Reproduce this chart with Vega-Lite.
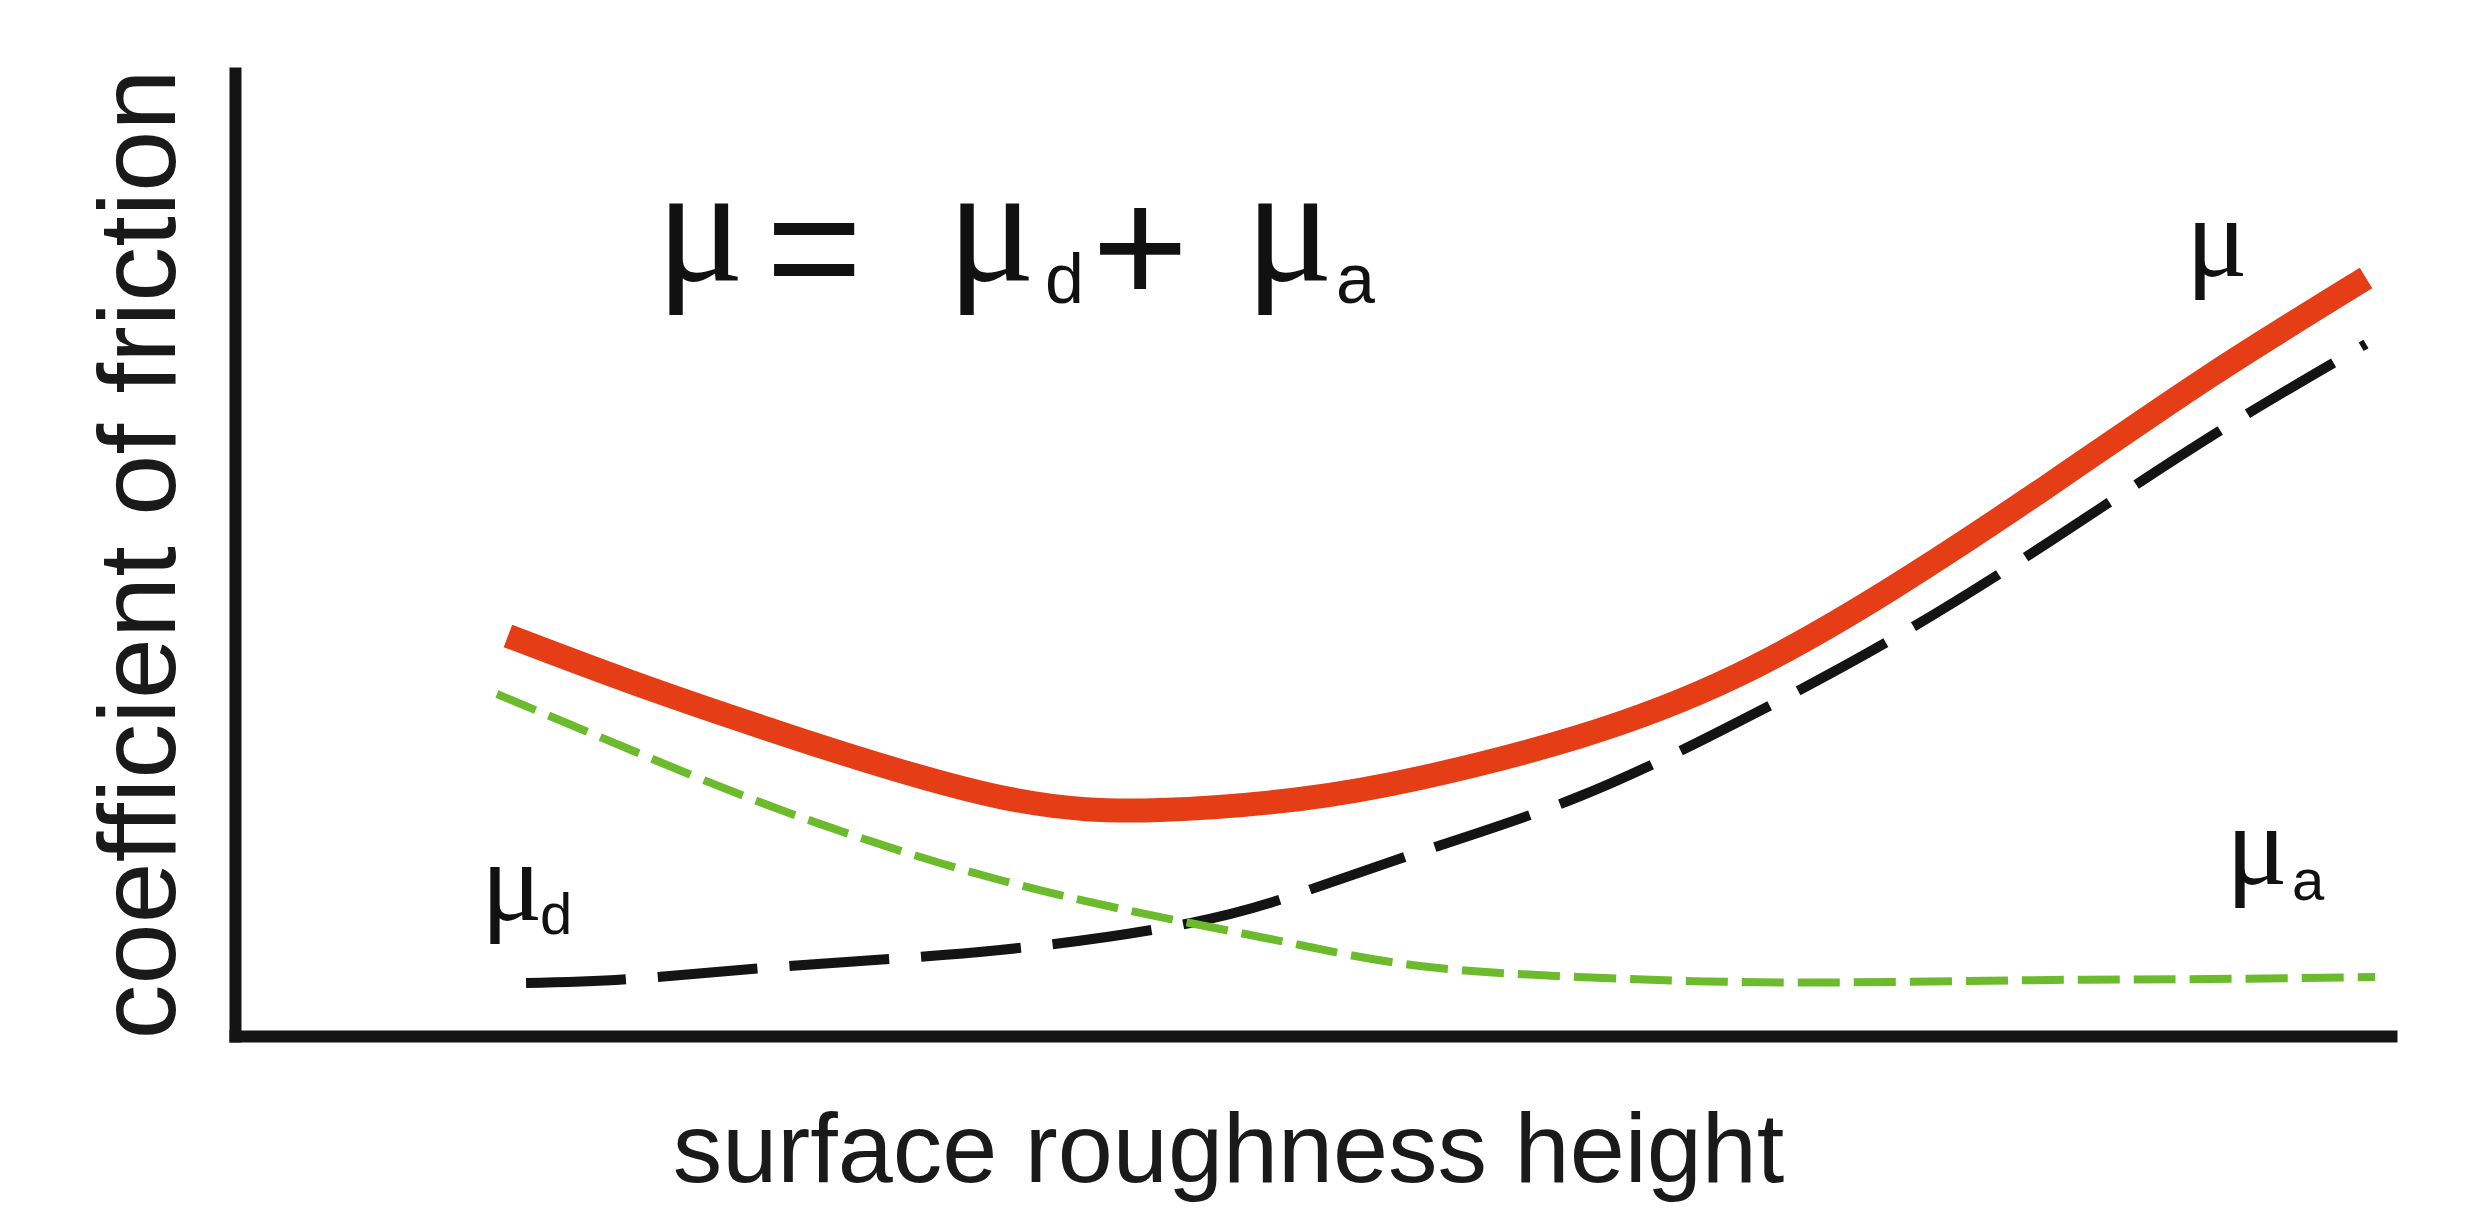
{
  "$schema": "https://vega.github.io/schema/vega-lite/v6.json",
  "autosize": {"type": "none"},
  "width": 2156,
  "height": 963,
  "padding": {"left": 235, "top": 73, "right": 84, "bottom": 196},
  "background": "#ffffff",
  "config": {"view": {"stroke": null}},
  "datasets": {
    "curves": [
      {"curve": "mu", "x": 12.66, "y": 41.54},
      {"curve": "mu", "x": 18.37, "y": 36.76},
      {"curve": "mu", "x": 25.70, "y": 31.15},
      {"curve": "mu", "x": 35.48, "y": 24.82},
      {"curve": "mu", "x": 42.90, "y": 23.47},
      {"curve": "mu", "x": 49.40, "y": 24.61},
      {"curve": "mu", "x": 54.96, "y": 26.79},
      {"curve": "mu", "x": 62.29, "y": 31.05},
      {"curve": "mu", "x": 69.62, "y": 37.38},
      {"curve": "mu", "x": 76.95, "y": 46.63},
      {"curve": "mu", "x": 84.28, "y": 57.42},
      {"curve": "mu", "x": 91.60, "y": 68.54},
      {"curve": "mu", "x": 98.84, "y": 78.71},
      {"curve": "mu_a", "x": 12.15, "y": 35.51},
      {"curve": "mu_a", "x": 18.37, "y": 29.70},
      {"curve": "mu_a", "x": 25.70, "y": 23.16},
      {"curve": "mu_a", "x": 35.48, "y": 16.20},
      {"curve": "mu_a", "x": 44.29, "y": 11.73},
      {"curve": "mu_a", "x": 49.40, "y": 9.45},
      {"curve": "mu_a", "x": 54.96, "y": 7.27},
      {"curve": "mu_a", "x": 62.29, "y": 6.13},
      {"curve": "mu_a", "x": 69.62, "y": 5.61},
      {"curve": "mu_a", "x": 76.95, "y": 5.61},
      {"curve": "mu_a", "x": 84.28, "y": 5.82},
      {"curve": "mu_a", "x": 91.60, "y": 5.92},
      {"curve": "mu_a", "x": 99.26, "y": 6.13},
      {"curve": "mu_d", "x": 13.50, "y": 5.50},
      {"curve": "mu_d", "x": 18.37, "y": 5.92},
      {"curve": "mu_d", "x": 25.70, "y": 7.27},
      {"curve": "mu_d", "x": 35.48, "y": 8.93},
      {"curve": "mu_d", "x": 44.29, "y": 11.73},
      {"curve": "mu_d", "x": 49.40, "y": 14.85},
      {"curve": "mu_d", "x": 54.96, "y": 19.11},
      {"curve": "mu_d", "x": 62.29, "y": 24.82},
      {"curve": "mu_d", "x": 69.62, "y": 32.50},
      {"curve": "mu_d", "x": 76.95, "y": 41.33},
      {"curve": "mu_d", "x": 84.28, "y": 51.51},
      {"curve": "mu_d", "x": 91.60, "y": 62.20},
      {"curve": "mu_d", "x": 98.84, "y": 71.86}
    ],
    "labels": [
      {"role": "bigmu", "text": "μ", "x": 19.53, "y": 78.5},
      {"role": "bigmu", "text": "μ", "x": 33.02, "y": 78.5},
      {"role": "bigmu", "text": "μ", "x": 46.85, "y": 78.5},
      {"role": "bigop", "text": "=", "x": 24.63, "y": 81.2},
      {"role": "bigop", "text": "+", "x": 39.75, "y": 81.2},
      {"role": "bigsub", "text": "d", "x": 37.57, "y": 76.1},
      {"role": "bigsub", "text": "a", "x": 51.07, "y": 76.1},
      {"role": "mu", "text": "μ", "x": 90.49, "y": 78.9},
      {"role": "mu", "text": "μ", "x": 92.35, "y": 15.8},
      {"role": "mu", "text": "μ", "x": 11.41, "y": 12.0},
      {"role": "sub", "text": "a", "x": 95.41, "y": 14.1},
      {"role": "sub", "text": "d", "x": 14.15, "y": 10.6}
    ]
  },
  "encoding": {
    "x": {"field": "x", "type": "quantitative", "scale": {"domain": [0, 100], "nice": false, "zero": false},
      "axis": {"title": "surface roughness height", "domain": true, "domainWidth": 12, "domainColor": "#141414", "domainCap": "square",
        "ticks": false, "labels": false, "grid": false,
        "titleFont": "Liberation Sans", "titleFontSize": 99, "titleFontWeight": "normal", "titleColor": "#1a1a1a",
        "titleX": 993, "titleY": 145, "titleBaseline": "alphabetic", "titleAlign": "center"}},
    "y": {"field": "y", "type": "quantitative", "scale": {"domain": [0, 100], "nice": false, "zero": false},
      "axis": {"title": "coefficient of friction", "domain": true, "domainWidth": 12, "domainColor": "#141414", "domainCap": "square",
        "ticks": false, "labels": false, "grid": false,
        "titleFont": "Liberation Sans", "titleFontSize": 110, "titleFontWeight": "normal", "titleColor": "#1a1a1a",
        "titleX": -61, "titleY": 481, "titleBaseline": "alphabetic", "titleAlign": "center", "titleAngle": -90}}
  },
  "layer": [
    {"data": {"name": "curves"}, "transform": [{"filter": "datum.curve == 'mu_d'"}],
      "mark": {"type": "line", "interpolate": "natural", "color": "#141414", "strokeWidth": 10, "strokeDash": [100, 32], "strokeCap": "butt"}},
    {"data": {"name": "curves"}, "transform": [{"filter": "datum.curve == 'mu_a'"}],
      "mark": {"type": "line", "interpolate": "natural", "color": "#6CBB2C", "strokeWidth": 8, "strokeDash": [42, 14], "strokeCap": "butt"}},
    {"data": {"name": "curves"}, "transform": [{"filter": "datum.curve == 'mu'"}],
      "mark": {"type": "line", "interpolate": "natural", "color": "#E53D16", "strokeWidth": 24, "strokeCap": "butt"}},
    {"data": {"name": "labels"}, "transform": [{"filter": "datum.role == 'bigmu'"}],
      "mark": {"type": "text", "font": "Liberation Serif", "fontSize": 165, "align": "left", "baseline": "alphabetic", "color": "#111111"},
      "encoding": {"text": {"field": "text"}}},
    {"data": {"name": "labels"}, "transform": [{"filter": "datum.role == 'bigop'"}],
      "mark": {"type": "text", "font": "Liberation Sans", "fontSize": 165, "align": "left", "baseline": "middle", "color": "#111111"},
      "encoding": {"text": {"field": "text"}}},
    {"data": {"name": "labels"}, "transform": [{"filter": "datum.role == 'bigsub'"}],
      "mark": {"type": "text", "font": "Liberation Sans", "fontSize": 70, "align": "left", "baseline": "alphabetic", "color": "#111111"},
      "encoding": {"text": {"field": "text"}}},
    {"data": {"name": "labels"}, "transform": [{"filter": "datum.role == 'mu'"}],
      "mark": {"type": "text", "font": "Liberation Serif", "fontSize": 115, "align": "left", "baseline": "alphabetic", "color": "#111111"},
      "encoding": {"text": {"field": "text"}}},
    {"data": {"name": "labels"}, "transform": [{"filter": "datum.role == 'sub'"}],
      "mark": {"type": "text", "font": "Liberation Sans", "fontSize": 58, "align": "left", "baseline": "alphabetic", "color": "#111111"},
      "encoding": {"text": {"field": "text"}}}
  ]
}
